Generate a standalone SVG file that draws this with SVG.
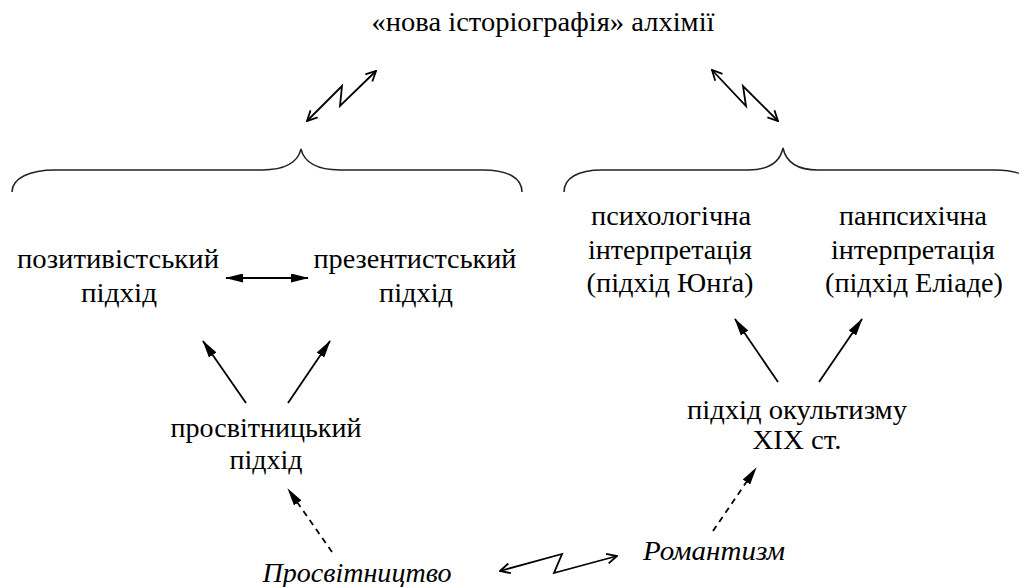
<svg xmlns="http://www.w3.org/2000/svg" width="1019" height="587" viewBox="0 0 1019 587">
<defs>
<style>
text{font-family:"Liberation Serif","Times New Roman",serif;font-size:27px;fill:#000;text-anchor:middle}
.it{font-style:italic}
.brace{fill:none;stroke:#222;stroke-width:1.5}
.zig{fill:none;stroke:#000;stroke-width:1.8;stroke-linejoin:miter}
.arr{fill:none;stroke:#000;stroke-width:1.8}
.dash{stroke-dasharray:6,5}
</style>
<marker id="open" viewBox="0 0 12 12" refX="11" refY="6" markerWidth="12" markerHeight="12" markerUnits="userSpaceOnUse" orient="auto-start-reverse">
<path d="M1,1 L11,6 L1,11" fill="none" stroke="#000" stroke-width="1.8"/>
</marker>
<marker id="fill" viewBox="0 0 18 9" refX="17" refY="4.5" markerWidth="18" markerHeight="9" markerUnits="userSpaceOnUse" orient="auto-start-reverse">
<path d="M0,0 L18,4.5 L0,9 Z" fill="#000"/>
</marker>
</defs>
<rect width="1019" height="587" fill="#fff"/>
<g id="title"><text x="543" y="31" textLength="343" lengthAdjust="spacingAndGlyphs">«нова історіографія» алхімії</text></g>
<g id="braces">
<path class="brace" d="M12,192 C12,178 30,170 55,170 L262,170 C285,170 298,162 301,149 C304,162 317,170 340,170 L483,170 C508,170 522,178 522,192"/>
<path class="brace" d="M564,192 C564,178 578,170 602,170 L748,170 C768,170 780,162 783,148 C786,162 798,170 818,170 L995,170 C1020,170 1034,178 1036,192"/>
</g>
<g id="n-pos"><text x="118" y="268" textLength="202" lengthAdjust="spacingAndGlyphs">позитивістський</text><text x="119" y="302" textLength="76" lengthAdjust="spacingAndGlyphs">підхід</text></g>
<g id="n-pres"><text x="415" y="268" textLength="203" lengthAdjust="spacingAndGlyphs">презентистський</text><text x="416" y="302" textLength="74" lengthAdjust="spacingAndGlyphs">підхід</text></g>
<g id="n-psy"><text x="671" y="225" textLength="160" lengthAdjust="spacingAndGlyphs">психологічна</text><text x="670" y="259" textLength="164" lengthAdjust="spacingAndGlyphs">інтерпретація</text><text x="670" y="292" textLength="167" lengthAdjust="spacingAndGlyphs">(підхід Юнґа)</text></g>
<g id="n-pan"><text x="913" y="225" textLength="148" lengthAdjust="spacingAndGlyphs">панпсихічна</text><text x="913" y="259" textLength="164" lengthAdjust="spacingAndGlyphs">інтерпретація</text><text x="914" y="292" textLength="178" lengthAdjust="spacingAndGlyphs">(підхід Еліаде)</text></g>
<g id="n-prosv"><text x="266" y="437" textLength="191" lengthAdjust="spacingAndGlyphs">просвітницький</text><text x="266" y="469" textLength="73" lengthAdjust="spacingAndGlyphs">підхід</text></g>
<g id="n-okult"><text x="797" y="419" textLength="220" lengthAdjust="spacingAndGlyphs">підхід окультизму</text><text x="797" y="449" textLength="89" lengthAdjust="spacingAndGlyphs">XIX ст.</text></g>
<g id="n-rom"><text class="it" x="714" y="560" textLength="142" lengthAdjust="spacingAndGlyphs">Романтизм</text></g>
<g id="n-enl"><text class="it" x="357" y="582" textLength="189" lengthAdjust="spacingAndGlyphs">Просвітництво</text></g>
<g id="connectors">
<path class="zig" d="M307,121 L342,86 L340,106 L376,71" marker-start="url(#open)" marker-end="url(#open)"/>
<path class="zig" d="M712,70 L746,106 L743,86 L778,121" marker-start="url(#open)" marker-end="url(#open)"/>
<path class="zig" d="M500,571 L562,554 L554,573 L617,556" marker-start="url(#open)" marker-end="url(#open)"/>
<line class="arr" x1="226" y1="278" x2="308" y2="278" marker-start="url(#fill)" marker-end="url(#fill)"/>
<line class="arr" x1="246" y1="403" x2="203" y2="341" marker-end="url(#fill)"/>
<line class="arr" x1="288" y1="403" x2="330" y2="341" marker-end="url(#fill)"/>
<line class="arr" x1="778" y1="382" x2="735" y2="319" marker-end="url(#fill)"/>
<line class="arr" x1="819" y1="382" x2="862" y2="319" marker-end="url(#fill)"/>
<line class="arr dash" x1="332" y1="552" x2="288" y2="489" marker-end="url(#fill)"/>
<line class="arr dash" x1="713" y1="531" x2="756" y2="468" marker-end="url(#fill)"/>
</g>
</svg>
